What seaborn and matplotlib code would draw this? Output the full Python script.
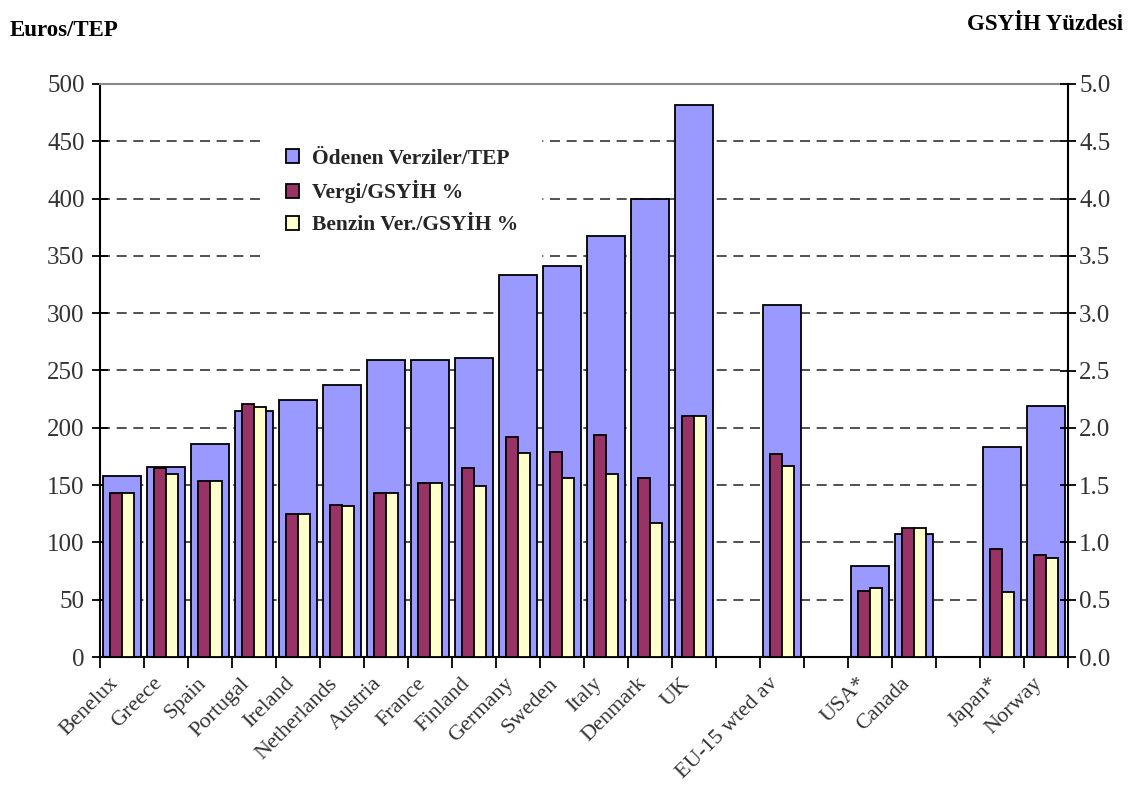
import matplotlib
matplotlib.use("Agg")
import matplotlib.pyplot as plt
import seaborn as sns
import pandas as pd
import numpy as np
from matplotlib.patches import Patch
from matplotlib.ticker import FixedLocator, FormatStrFormatter

# ---- data -------------------------------------------------------------
countries = ["Benelux", "Greece", "Spain", "Portugal", "Ireland", "Netherlands",
             "Austria", "France", "Finland", "Germany", "Sweden", "Italy",
             "Denmark", "UK", "EU-15 wted av", "USA*", "Canada", "Japan*", "Norway"]

# taxes paid per tonne of oil equivalent (left axis, Euros/TEP)
taxes_per_tep = [158, 166, 186, 215, 224, 237, 259, 259, 261, 333, 341, 367,
                 400, 482, 307, 79, 107, 183, 219]
# energy taxes as % of GDP (right axis)
tax_gdp = [1.43, 1.65, 1.54, 2.21, 1.25, 1.33, 1.43, 1.52, 1.65, 1.92, 1.79, 1.94,
           1.56, 2.10, 1.77, 0.58, 1.13, 0.94, 0.89]
# fuel taxes as % of GDP (right axis)
fuel_tax_gdp = [1.43, 1.60, 1.54, 2.18, 1.25, 1.32, 1.43, 1.52, 1.49, 1.78, 1.56, 1.60,
                1.17, 2.10, 1.67, 0.60, 1.13, 0.565, 0.86]

# category order on the x axis, with empty separator slots
order = ["Benelux", "Greece", "Spain", "Portugal", "Ireland", "Netherlands",
         "Austria", "France", "Finland", "Germany", "Sweden", "Italy",
         "Denmark", "UK", " ", "EU-15 wted av", "  ", "USA*", "Canada", "   ",
         "Japan*", "Norway"]

series_names = ["Ödenen Verziler/TEP", "Vergi/GSYİH %", "Benzin Ver./GSYİH %"]
colors = ["#9999FF", "#993366", "#FFFFCC"]

left_ticks = np.arange(0, 501, 50)
right_ticks = np.arange(0, 5.01, 0.5)

# ---- frames -----------------------------------------------------------
df_tep = pd.DataFrame({"country": countries, "value": taxes_per_tep})
df_gdp = pd.DataFrame({
    "country": countries * 2,
    "value": tax_gdp + fuel_tax_gdp,
    "series": [series_names[1]] * len(countries) + [series_names[2]] * len(countries),
})

# ---- style ------------------------------------------------------------
sns.set_theme(style="white")
plt.rcParams["font.family"] = ["Liberation Serif", "DejaVu Serif"]

W, H = 1128, 788
fig = plt.figure(figsize=(W / 100, H / 100), dpi=100)
ax = fig.add_axes([100 / W, 1 - 657 / H, (1068 - 100) / W, (657 - 84) / H])

# wide bars: Euros per TEP
sns.barplot(data=df_tep, x="country", y="value", order=order, color=colors[0],
            width=0.86, edgecolor="black", linewidth=1.3, saturation=1,
            ax=ax, zorder=2)

ax2 = ax.twinx()
sns.barplot(data=df_gdp, x="country", y="value", hue="series", order=order,
            hue_order=series_names[1:], palette=colors[1:], width=0.54,
            edgecolor="black", linewidth=1.3, saturation=1, ax=ax2, zorder=2)
if ax2.get_legend() is not None:
    ax2.get_legend().remove()

# ---- axes ranges & ticks ---------------------------------------------
ax.set_xlim(-0.5, len(order) - 0.5)
ax.set_ylim(0, 500)
ax2.set_ylim(0, 5)

ax.xaxis.set_major_locator(FixedLocator(np.arange(len(order))))
ax.set_xticklabels(order)
ax.xaxis.set_minor_locator(FixedLocator(np.arange(len(order) + 1) - 0.5))
ax.tick_params(axis="x", which="major", length=0, pad=22, labelsize=16,
               labelcolor="#333333")
ax.tick_params(axis="x", which="minor", length=8, width=1.3, color="black",
               direction="out", bottom=True)
for lbl in ax.get_xticklabels():
    lbl.set_rotation(45)
    lbl.set_ha("right")
    lbl.set_va("bottom")
    lbl.set_rotation_mode("anchor")

ax.set_yticks(left_ticks)
ax.tick_params(axis="y", which="major", direction="inout", length=12, width=1.3,
               color="black", labelsize=18, labelcolor="#333333", pad=5, left=True)
ax2.set_yticks(right_ticks)
ax2.yaxis.set_major_formatter(FormatStrFormatter("%.1f"))
ax2.tick_params(axis="y", which="major", direction="inout", length=12, width=1.3,
                color="black", labelsize=18, labelcolor="#333333", pad=2, right=True)
ax2.tick_params(axis="x", which="both", bottom=False, labelbottom=False)

for a in (ax, ax2):
    a.set_xlabel("")
    a.set_ylabel("")

# dashed horizontal grid behind the bars
ax.set_axisbelow(True)
ax.yaxis.grid(True, linestyle=(0, (6, 4)), linewidth=1.2, color="#333333")
ax.xaxis.grid(False)
ax2.grid(False)

# spines
for a in (ax, ax2):
    for s in a.spines.values():
        s.set_visible(False)
ax.spines["left"].set_visible(True)
ax.spines["left"].set_color("black")
ax.spines["left"].set_linewidth(1.5)
ax.spines["bottom"].set_visible(True)
ax.spines["bottom"].set_color("black")
ax.spines["bottom"].set_linewidth(1.5)
ax.spines["top"].set_visible(True)
ax.spines["top"].set_color("#8a8a8a")
ax.spines["top"].set_linewidth(1.5)
ax2.spines["right"].set_visible(True)
ax2.spines["right"].set_color("black")
ax2.spines["right"].set_linewidth(1.5)

# ---- legend -----------------------------------------------------------
handles = [Patch(facecolor=c, edgecolor="black", linewidth=1.3) for c in colors]
leg = ax2.legend(handles, series_names, loc="upper left",
                 bbox_to_anchor=(263 / W, 1 - 126 / H),
                 bbox_transform=fig.transFigure, frameon=True, fancybox=False,
                 facecolor="white", edgecolor="white", framealpha=1,
                 handlelength=0.62, handleheight=0.62, handletextpad=0.6,
                 labelspacing=0.55, borderpad=1.05, borderaxespad=0,
                 prop={"family": ["Liberation Serif", "DejaVu Serif"],
                       "weight": "bold", "size": 15.5})
leg.set_zorder(10)

# ---- axis titles -------------------------------------------------------
fig.text(10 / W, 1 - 30 / H, "Euros/TEP", ha="left", va="center",
         fontsize=16.5, fontweight="bold", color="black")
fig.text(1 - 5 / W, 1 - 24 / H, "GSYİH Yüzdesi", ha="right", va="center",
         fontsize=16.5, fontweight="bold", color="black")

fig.savefig("out.png", dpi=100, facecolor="white")
